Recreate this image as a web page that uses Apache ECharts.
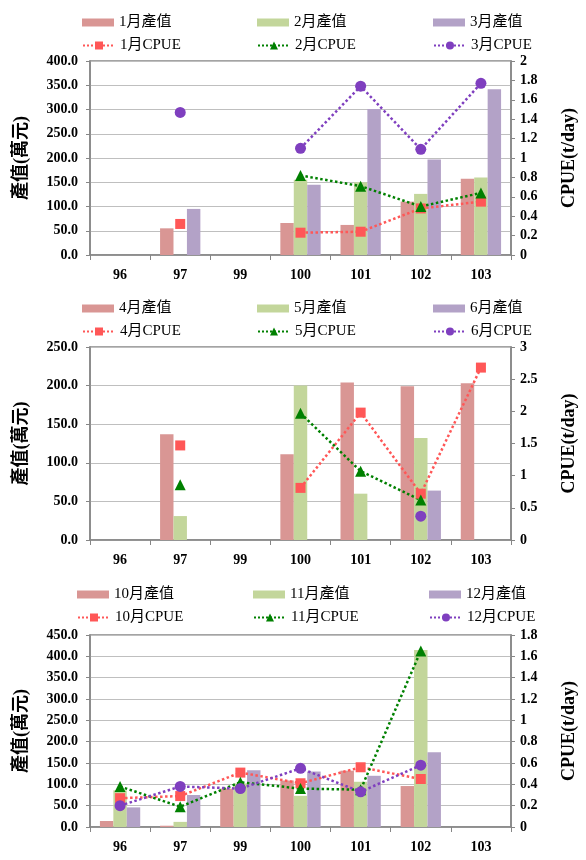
<!DOCTYPE html>
<html>
<head>
<meta charset="utf-8">
<script src="https://cdn.jsdelivr.net/npm/echarts@6/dist/echarts.min.js"></script>
<style>
html,body{margin:0;padding:0;background:#fff;}
#c{width:586px;height:860px;}
</style>
</head>
<body>
<div id="c"></div>
<script>
// Categories (years, ROC calendar)
const years = ['96', '97', '99', '100', '101', '102', '103'];

// Panel 1: Jan–Mar
const jan1Value = [null, 55, null, 66, 62, 110, 157];
const feb1Value = [null, null, null, 155, 150, 126, 160];
const mar1Value = [null, 95, null, 145, 301, 197, 342];
const janCPUE = [null, 0.32, null, 0.23, 0.24, 0.48, 0.55];
const febCPUE = [null, null, null, 0.82, 0.71, 0.50, 0.64];
const marCPUE = [null, 1.47, null, 1.10, 1.74, 1.09, 1.77];

// Panel 2: Apr–Jun
const aprValue = [null, 137, null, 111, 204, 199, 203];
const mayValue = [null, 31, null, 200, 60, 132, null];
const junValue = [null, null, null, null, null, 64, null];
const aprCPUE = [null, 1.47, null, 0.81, 1.98, 0.72, 2.68];
const mayCPUE = [null, 0.86, null, 1.97, 1.07, 0.62, null];
const junCPUE = [null, null, null, null, null, 0.37, null];

// Panel 3: Oct–Dec
const octValue = [14, 3, 90, 109, 132, 96, null];
const novValue = [86, 12, 102, 73, 106, 415, null];
const decValue = [46, 75, 133, 130, 120, 175, null];
const octCPUE = [0.27, 0.29, 0.51, 0.41, 0.56, 0.45, null];
const novCPUE = [0.38, 0.19, 0.42, 0.36, 0.35, 1.65, null];
const decCPUE = [0.20, 0.38, 0.36, 0.55, 0.33, 0.58, null];

// Axis ranges
const leftMax = [400, 250, 450];
const leftInterval = [50, 50, 50];
const rightMax = [2, 3, 1.8];
const rightInterval = [0.2, 0.5, 0.2];

const monthSets = [['1月', '2月', '3月'], ['4月', '5月', '6月'], ['10月', '11月', '12月']];
const barSets = [[jan1Value, feb1Value, mar1Value], [aprValue, mayValue, junValue], [octValue, novValue, decValue]];
const cpueSets = [[janCPUE, febCPUE, marCPUE], [aprCPUE, mayCPUE, junCPUE], [octCPUE, novCPUE, decCPUE]];

const barColors = ['#d99694', '#c3d69b', '#b3a2c7'];
const lineColors = ['#ff5757', '#008000', '#7f3fbf'];
const symbols = ['rect', 'triangle', 'circle'];
const symbolSizes = [10, 11, 11];

const layout = [
  {top: 61, height: 194, rows: [23, 46], xs: [82, 257, 433]},
  {top: 347, height: 193, rows: [309, 332], xs: [82, 257, 433]},
  {top: 635, height: 192, rows: [595, 618], xs: [77, 253, 429]}
];

const FONT = "'Liberation Serif','Noto Sans CJK TC',serif";
const axisGray = '#868686';

const grids = [], xAxes = [], yAxes = [], series = [], legends = [];

for (let p = 0; p < 3; p++) {
  const L = layout[p];
  grids.push({left: 90, right: 74, top: L.top, height: L.height, show: true, borderColor: axisGray, borderWidth: 1.5, backgroundColor: 'transparent'});
  xAxes.push({
    type: 'category', gridIndex: p, data: years, boundaryGap: true,
    axisLine: {lineStyle: {color: axisGray, width: 1.5}},
    axisTick: {show: true, alignWithLabel: false, length: 5, lineStyle: {color: axisGray}},
    axisLabel: {fontFamily: FONT, fontSize: 14, fontWeight: 'bold', color: '#000', margin: 13}
  });
  yAxes.push({
    type: 'value', gridIndex: p, min: 0, max: leftMax[p], interval: leftInterval[p], position: 'left',
    name: '產值(萬元)', nameLocation: 'middle', nameRotate: 90, nameGap: 60,
    nameTextStyle: {fontFamily: FONT, fontSize: 18, fontWeight: 'bold', color: '#000'},
    axisLine: {show: true, lineStyle: {color: axisGray, width: 1.5}},
    axisTick: {show: true, length: 4, lineStyle: {color: axisGray}},
    splitLine: {show: true, lineStyle: {color: '#bfbfbf', width: 1.2}},
    axisLabel: {fontFamily: FONT, fontSize: 14, fontWeight: 'bold', color: '#000', margin: 12,
      formatter: v => v.toFixed(1)}
  });
  yAxes.push({
    type: 'value', gridIndex: p, min: 0, max: rightMax[p], interval: rightInterval[p], position: 'right',
    name: 'CPUE(t/day)', nameLocation: 'middle', nameRotate: 90, nameGap: 49,
    nameTextStyle: {fontFamily: FONT, fontSize: 18, fontWeight: 'bold', color: '#000'},
    axisLine: {show: true, lineStyle: {color: axisGray, width: 1.5}},
    axisTick: {show: true, length: 4, lineStyle: {color: axisGray}},
    splitLine: {show: false},
    axisLabel: {fontFamily: FONT, fontSize: 14, fontWeight: 'bold', color: '#000', margin: 9,
      formatter: v => String(Math.round(v * 10) / 10)}
  });
  const months = monthSets[p];
  for (let k = 0; k < 3; k++) {
    const barName = months[k] + '產值';
    series.push({
      name: barName, type: 'bar', xAxisIndex: p, yAxisIndex: 2 * p,
      data: barSets[p][k], barGap: '0%', barCategoryGap: '33%',
      itemStyle: {color: barColors[k]}, z: 2
    });
    legends.push({
      data: [{name: barName, icon: 'rect'}], left: L.xs[k], top: L.rows[0] - 8, padding: 0,
      itemWidth: 32, itemHeight: 8, itemGap: 5, selectedMode: false,
      textStyle: {fontFamily: FONT, fontSize: 15, color: '#000'}
    });
  }
  for (let k = 0; k < 3; k++) {
    const lineName = months[k] + 'CPUE';
    series.push({
      name: lineName, type: 'line', xAxisIndex: p, yAxisIndex: 2 * p + 1,
      data: cpueSets[p][k], connectNulls: false,
      symbol: symbols[k], symbolSize: symbolSizes[k], showSymbol: true,
      lineStyle: {color: lineColors[k], width: 2.5, type: 'dotted'},
      itemStyle: {color: lineColors[k]}, z: 5, animation: false
    });
    legends.push({
      data: [lineName], left: L.xs[k], top: L.rows[1] - 8, padding: 0,
      itemWidth: 32, itemHeight: 10, itemGap: 5, selectedMode: false,
      textStyle: {fontFamily: FONT, fontSize: 15, color: '#000'}
    });
  }
}

const chart = echarts.init(document.getElementById('c'), null, {renderer: 'canvas'});
chart.setOption({
  animation: false,
  backgroundColor: '#fff',
  grid: grids, xAxis: xAxes, yAxis: yAxes, legend: legends, series: series
});
</script>
</body>
</html>
